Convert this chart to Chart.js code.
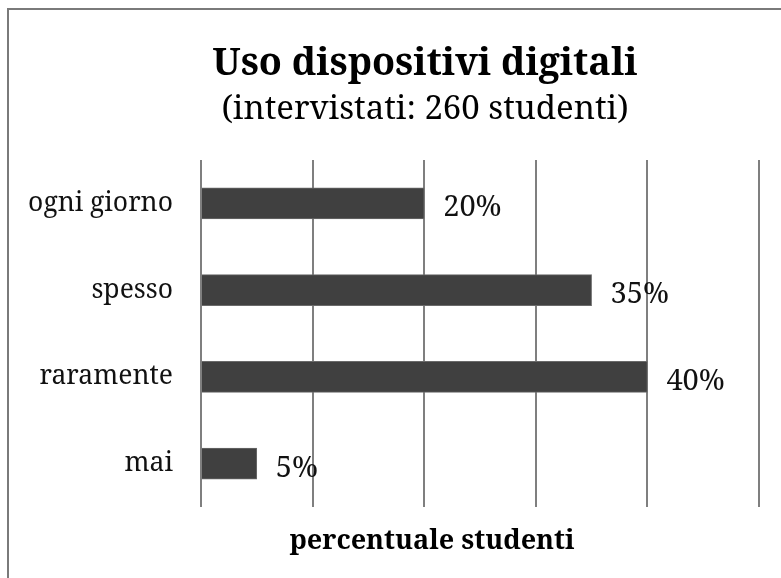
<!DOCTYPE html>
<html>
<head>
<meta charset="utf-8">
<script src="https://cdn.jsdelivr.net/npm/chart.js@4"></script>
<style>
  html, body { margin: 0; padding: 0; background: #ffffff; }
  #wrap { position: relative; width: 781px; height: 578px; overflow: hidden; }
  #frame { position: absolute; left: 7px; top: 8px; width: 800px; height: 600px;
           border-top: 2px solid #7a7a7a; border-left: 2px solid #7a7a7a; pointer-events: none; }
  canvas { position: absolute; left: 0; top: 0; }
</style>
</head>
<body>
<div id="wrap">
  <canvas id="c" width="781" height="578"></canvas>
  <div id="frame"></div>
</div>
<script>
const titleText = 'Uso dispositivi digitali';
const subtitleText = '(intervistati: 260 studenti)';
const axisTitle = 'percentuale studenti';
const categories = ['ogni giorno', 'spesso', 'raramente', 'mai'];
const percentages = [20, 35, 40, 5];
const labelSuffix = '%';

const FONT = "'Noto Serif', serif";

const extraText = {
  id: 'extraText',
  afterDatasetsDraw(chart) {
    const ctx = chart.ctx;
    const meta = chart.getDatasetMeta(0);
    ctx.save();
    // value labels next to each bar
    ctx.fillStyle = '#111111';
    ctx.textAlign = 'left';
    ctx.textBaseline = 'alphabetic';
    ctx.font = "29px " + FONT;
    meta.data.forEach((bar, i) => {
      ctx.fillText(percentages[i] + labelSuffix, bar.x + 19, bar.y + 13);
    });
    // axis title
    ctx.fillStyle = '#000000';
    ctx.textAlign = 'center';
    ctx.font = "bold 27px " + FONT;
    ctx.fillText(axisTitle, 432, 549);
    // chart title and subtitle
    ctx.textBaseline = 'middle';
    ctx.font = "bold 37.7px " + FONT;
    ctx.fillText(titleText, 425, 64.6);
    ctx.font = "33px " + FONT;
    ctx.fillText(subtitleText, 425, 110);
    ctx.restore();
  }
};

new Chart(document.getElementById('c'), {
  type: 'bar',
  data: {
    labels: categories,
    datasets: [{
      data: percentages,
      backgroundColor: '#404040',
      borderColor: '#6a6a6a',
      borderWidth: 1,
      barThickness: 31
    }]
  },
  options: {
    indexAxis: 'y',
    responsive: false,
    animation: false,
    layout: { padding: { left: 0, right: 22, top: 160, bottom: 0 } },
    plugins: {
      legend: { display: false },
      tooltip: { enabled: false },
      title: { display: false },
      subtitle: { display: false }
    },
    scales: {
      x: {
        min: 0, max: 50,
        ticks: { display: false, stepSize: 10 },
        grid: { color: '#7f7f7f', lineWidth: 2, drawTicks: false },
        border: { display: false },
        afterFit(scale) { scale.height = 71; }
      },
      y: {
        ticks: { color: '#111111', font: { family: FONT, size: 26.5 }, padding: 28 },
        grid: { display: false, drawTicks: false },
        border: { display: false },
        afterFit(scale) { scale.width = 201; }
      }
    }
  },
  plugins: [extraText]
});
</script>
</body>
</html>
